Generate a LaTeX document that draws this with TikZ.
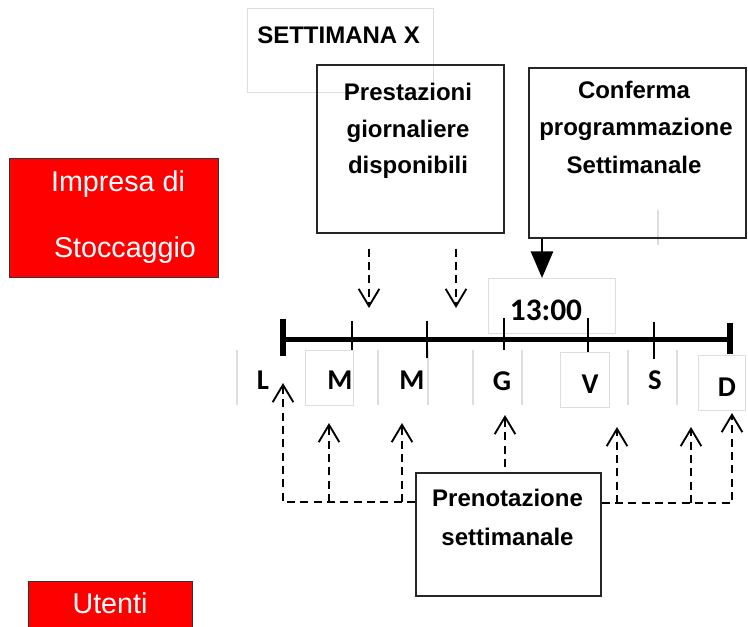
\documentclass[tikz,border=0pt]{standalone}
\usepackage{fontspec}
\setmainfont{Liberation Sans}
\newfontfamily\calibri{Carlito}
\usetikzlibrary{arrows.meta,calc}
\begin{document}
\begin{tikzpicture}[x=0.75pt,y=-0.75pt,
  faint/.style={draw=black!13, line width=1pt},
  blackbox/.style={draw=black!85, line width=1.2pt, inner sep=0pt, anchor=north west},
  redbox/.style={draw=black!80, fill=red, line width=1pt, inner sep=0pt, anchor=north west},
  redtext/.style={text=white, font=\fontsize{21.5}{24}\selectfont, inner sep=0pt, anchor=base},
  boxtext/.style={font=\bfseries\fontsize{18}{21}\selectfont, inner sep=0pt, anchor=base},
  daylbl/.style={font=\calibri\bfseries\fontsize{21.5}{24}\selectfont, inner sep=0pt, anchor=base},
  dasharrow/.style={line width=1.5pt, dash pattern=on 6pt off 4pt, -{Straight Barb[length=13pt,width=15.5pt,line width=1.4pt]}},
  fatarrow/.style={line width=2.2pt, -{Triangle[length=20pt,width=16.5pt]}},
]
\useasboundingbox (0,0) rectangle (748,626);
\clip (0,0) rectangle (748,626);
\fill[white] (0,0) rectangle (748,626);

% faint remnants
\node[faint, inner sep=0pt, anchor=north west, minimum width=139.5pt, minimum height=63pt] (week) at (247,8) {};
\node[font=\bfseries\fontsize{18}{20}\selectfont, inner sep=0pt, anchor=base west] (weektxt) at (257,43) {SETTIMANA X};
\node[faint, inner sep=0pt, anchor=north west, minimum width=95.25pt, minimum height=41.25pt] (hourbox) at (488,278) {};
\node[faint, inner sep=0pt, anchor=north west, minimum width=36pt, minimum height=41.25pt] (mbox) at (305,350) {};
\node[faint, inner sep=0pt, anchor=north west, minimum width=36.75pt, minimum height=41.25pt] (vbox) at (560,352) {};
\node[faint, inner sep=0pt, anchor=north west, minimum width=35.25pt, minimum height=41.25pt] (dbox) at (698,355) {};
\foreach \xx in {237,378,428,473,522,628,677}{\draw[faint] (\xx,350) -- (\xx,405);}
\draw[faint] (658,210) -- (658,245);

% red boxes
\node[redbox, minimum width=156.75pt, minimum height=89.25pt] (impresa) at (9,158) {};
\node[redtext] (imp1) at (118,191) {Impresa di};
\node[redtext] (imp2) at (125,257) {Stoccaggio};
\node[redbox, minimum width=123pt, minimum height=45pt] (utenti) at (28,581) {};
\node[redtext] (ut1) at (110,613) {Utenti};

% black boxes
\node[blackbox, minimum width=140.25pt, minimum height=126pt] (prest) at (316,64) {};
\node[boxtext] (p1) at (408,100) {Prestazioni};
\node[boxtext] (p2) at (408,137) {giornaliere};
\node[boxtext] (p3) at (408,173) {disponibili};

\node[blackbox, minimum width=162.75pt, minimum height=127.5pt] (conf) at (528,67) {};
\node[boxtext] (c1) at (634,98) {Conferma};
\node[boxtext] (c2) at (636,135) {programmazione};
\node[boxtext] (c3) at (634,173) {Settimanale};

\node[blackbox, minimum width=138.75pt, minimum height=92.25pt] (pren) at (415,472) {};
\node[boxtext] (r1) at (507.5,506) {Prenotazione};
\node[boxtext] (r2) at (507.5,545) {settimanale};

% time label
\node[daylbl, font=\calibri\bfseries\fontsize{23.5}{26}\selectfont] (hour) at (546,320) {13:00};

% timeline
\coordinate (tlA) at (283,339);
\coordinate (tlB) at (730,339);
\draw[line width=3.75pt] (tlA) -- (tlB);
\draw[line width=5pt] ($(tlA)+(0,-20)$) -- ($(tlA)+(0,17)$);
\draw[line width=5pt] ($(tlB)+(0,-16)$) -- ($(tlB)+(0,15)$);
\draw[line width=1.1pt] (352,321) -- (352,350);
\draw[line width=1.1pt] (427,321) -- (427,358);
\draw[line width=1.1pt] (504,318) -- (504,350);
\draw[line width=1.1pt] (588,318) -- (588,352);
\draw[line width=1.1pt] (654,322) -- (654,359);

% day labels
\node[daylbl] (dL) at (263,389) {L};
\node[daylbl] (dM1) at (340,389) {M};
\node[daylbl] (dM2) at (412,389) {M};
\node[daylbl] (dG) at (502,390) {G};
\node[daylbl] (dV) at (590,393) {V};
\node[daylbl] (dS) at (655,389) {S};
\node[daylbl] (dD) at (727,396) {D};

% arrows from top boxes
\coordinate (ftip) at (542,278);
\draw[fatarrow] (conf.south -| ftip) -- (ftip);
\coordinate (a1) at (369,308);
\coordinate (a2) at (456,308);
\draw[dasharrow] ($(prest.south -| a1)+(0,15)$) -- (a1);
\draw[dasharrow] ($(prest.south -| a2)+(0,15)$) -- (a2);

% arrows from Prenotazione
\coordinate (tL) at (283,383);
\coordinate (tM1) at (329,423);
\coordinate (tM2) at (402,423);
\coordinate (tG) at (505,415);
\coordinate (tV) at (617,427);
\coordinate (tS) at (691,427);
\coordinate (tD) at (732,413);
\coordinate (pl) at ($(pren.north west)+(0,30)$);
\coordinate (pr) at ($(pren.north east)+(0,31)$);
\draw[dasharrow] (pl) -| (tL);
\draw[dasharrow] (tM1 |- pl) -- (tM1);
\draw[dasharrow] (tM2 |- pl) -- (tM2);
\draw[dasharrow] ($(pren.north -| tG)+(0,-5)$) -- (tG);
\draw[dasharrow] (pr) -| (tD);
\draw[dasharrow] (tV |- pr) -- (tV);
\draw[dasharrow] (tS |- pr) -- (tS);
\end{tikzpicture}
\end{document}
